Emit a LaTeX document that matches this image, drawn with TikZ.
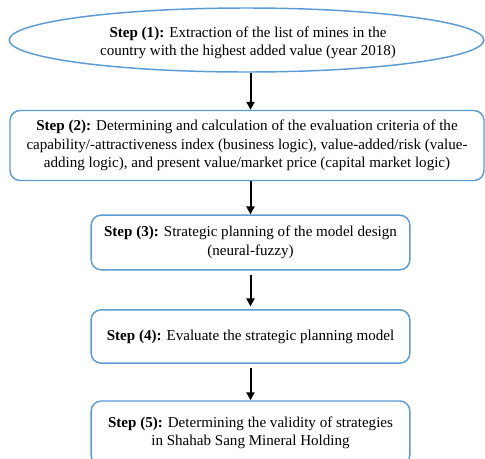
\documentclass[tikz,border=0pt]{standalone}
\usepackage{fontspec}
\setmainfont{Liberation Serif}
\usetikzlibrary{shapes.geometric,arrows.meta}
\begin{document}
\begin{tikzpicture}[x=0.75pt,y=-0.75pt,
  every node/.style={font=\fontsize{11.3pt}{13.9pt}\selectfont, align=center, inner sep=0pt},
  stepbox/.style={draw=stepblue, line width=1.1pt, rounded corners=7.5pt, rectangle},
  stepoval/.style={draw=stepblue, line width=1.1pt, ellipse},
  flow/.style={line width=1.5pt, -{Triangle[length=6pt,width=6pt]}}]
\definecolor{stepblue}{RGB}{91,155,213}
\useasboundingbox (0,0) rectangle (485,458);
\begin{scope}
\clip (0,0) rectangle (485,458);
% step 1: starting oval, its text set slightly low
\node[stepoval, minimum width=356pt, minimum height=48pt] (s1) at (246.5,40) {};
\node (t1) at (248,43)
  {\textbf{Step (1):} Extraction of the list of mines in the\\country with the highest added value (year 2018)};
% step 2
\node[stepbox, minimum width=355.5pt, minimum height=52.5pt] (s2) at (247,145.5)
  {\textbf{Step (2):} Determining and calculation of the evaluation criteria of the\\capability/-attractiveness index (business logic), value-added/risk (value-\\adding logic), and present value/market price (capital market logic)};
% step 3
\node[stepbox, minimum width=239pt, minimum height=41pt] (s3) at (250.5,242.5)
  {\textbf{Step (3):} Strategic planning of the model design\\(neural-fuzzy)};
% step 4
\node[stepbox, minimum width=239pt, minimum height=40pt] (s4) at (250.5,336.5)
  {\textbf{Step (4):} Evaluate the strategic planning model};
% step 5
\node[stepbox, minimum width=239pt, minimum height=48pt] (s5) at (250.5,433)
  {\textbf{Step (5):} Determining the validity of strategies\\in Shahab Sang Mineral Holding};
\end{scope}
% connectors
\draw[flow] (s1.south -| s3.center) -- (s2.north -| s3.center);
\draw[flow] (s2.south -| s3.center) -- (s3.north);
\draw[flow] ([yshift=-3pt]s3.south) -- ([yshift=2pt]s4.north);
\draw[flow] ([yshift=-3pt]s4.south) -- (s5.north);
\end{tikzpicture}
\end{document}
